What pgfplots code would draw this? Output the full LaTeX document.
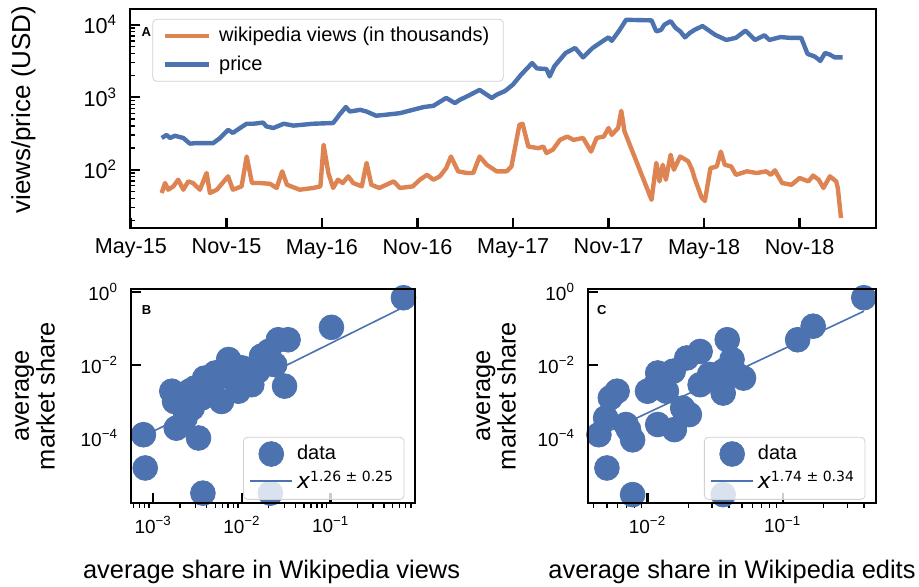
\documentclass[border=0pt]{standalone}
\usepackage{fontspec}
\setmainfont{Liberation Sans}
\newfontfamily\mtfont{DejaVu Sans}
\usepackage{pgfplots}
\pgfplotsset{compat=1.18}
\definecolor{sbblue}{HTML}{4C72B0}
\definecolor{sborange}{HTML}{DD8452}

\pgfplotsset{
  mypanel/.style={
    scale only axis, anchor=south west,
    axis line style={draw=black, line width=1.4pt},
    tick align=inside, xtick pos=left, ytick pos=left,
    major tick length=5pt, minor tick length=2.5pt,
    every major tick/.append style={line width=1.2pt, black},
    every minor tick/.append style={line width=0.7pt, black},
    yticklabel style={xshift=-3pt},
  },
  myscatter/.style={
    mypanel,
    ymin=1.66e-6, ymax=1.2,
    ytick={1e-4,1e-2,1},
    yticklabels={10\textsuperscript{−4},10\textsuperscript{−2},10\textsuperscript{0}},
    minor ytick={},
    minor x tick style={yshift=-2.5pt},
    tick label style={font=\fontsize{9.5}{10}\selectfont},
    xticklabel style={yshift=-3pt},
    label style={font=\fontsize{12.7}{11}\selectfont},
    ylabel={average\\market share},
    ylabel style={align=center},
    legend cell align=left,
    legend style={at={(0.963,0.015)}, anchor=south east,
      draw=black!18, rounded corners=2pt, fill=white, fill opacity=0.8,
      draw opacity=1, text opacity=1,
      font=\fontsize{10}{11}\selectfont, row sep=0pt,
      inner xsep=3pt, inner ysep=2pt},
    legend image code/.code={\draw[mark repeat=2,mark phase=2,##1,fill opacity=1]
      plot coordinates {(0pt,0pt) (10.5pt,0pt) (21pt,0pt)};},
  },
  dots/.style={only marks, mark=*, mark size=6.2pt,
    mark options={fill=sbblue, draw=sbblue}},
}
% frame of a panel as four open strokes: left, bottom, right, top (in pt)
\newcommand{\frameaxis}[4]{%
  \draw[black, line width=1.4pt, line cap=rect] (#1pt,#2pt) -- (#3pt,#2pt);
  \draw[black, line width=1.4pt, line cap=rect] (#3pt,#2pt) -- (#3pt,#4pt);
  \draw[black, line width=1.4pt, line cap=rect] (#3pt,#4pt) -- (#1pt,#4pt);
  \draw[black, line width=1.4pt, line cap=rect] (#1pt,#4pt) -- (#1pt,#2pt);}

\begin{document}
\begin{tikzpicture}
\useasboundingbox (0pt,0pt) rectangle (459.5pt,-293.5pt);

% A: time series
\begin{axis}[mypanel,
  at={(65pt,-114pt)}, width=373pt, height=109.5pt,
  ymode=log, xmin=-0.06, xmax=46.8, ymin=15.7, ymax=16500,
  tick label style={font=\fontsize{10.8}{11}\selectfont},
  xtick={0,6,12,18,24,30,36,42},
  xticklabels={May-15,Nov-15,May-16,Nov-16,May-17,Nov-17,May-18,Nov-18},
  xticklabel style={yshift=-2pt},
  ytick={100,1000,10000},
  yticklabels={10\textsuperscript{2},10\textsuperscript{3},10\textsuperscript{4}},
  minor ytick={20,30,40,50,60,70,80,90,200,300,400,500,600,700,800,900,
    2000,3000,4000,5000,6000,7000,8000,9000},
  ylabel={views/price (USD)},
  ylabel style={at={(axis description cs:-0.143,0.54)}, anchor=center,
    font=\fontsize{13}{13}\selectfont},
  legend cell align=left,
  legend style={at={(0.03,0.955)}, anchor=north west,
    draw=black!18, rounded corners=2pt, fill=white,
    font=\fontsize{10}{11}\selectfont, row sep=1.5pt,
    inner xsep=5pt, inner ysep=2pt,
    /tikz/every odd column/.append style={column sep=2pt}},
  legend image code/.code={\draw[#1] (0pt,0pt) -- (22pt,0pt);},
]
\addplot[sborange, line width=2.2pt, line join=round] coordinates {
(1.93,47.7)(2.14,65.5)(2.34,53)(2.66,58.9)(2.97,72.8)(3.29,53)(3.6,69)
(3.9,65.5)(4.33,53)(4.75,90)(4.96,47.7)(5.4,53)(6.1,81)(6.4,53)(6.95,58.9)
(7.27,152)(7.6,65.5)(8.1,65.5)(8.73,64)(9.15,56)(9.5,95)(9.8,62)(10.6,53)
(11.45,56)(11.9,58.9)(12.1,221)(12.4,90)(12.7,56)(13.0,72.8)(13.3,65.5)
(13.65,81)(13.96,65.5)(14.5,58.9)(14.8,124)(15.1,62)(15.6,56)(16.5,69)
(16.9,56)(17.7,58.9)(18.15,72.8)(18.6,85)(19.0,72.8)(19.4,81)(19.8,105)
(20.1,152)(20.55,95)(21.1,90)(21.5,90)(21.9,152)(22.35,117)(22.97,95)
(23.6,95)(23.9,111)(24.4,417)(24.6,430)(24.96,209)(25.6,198)(25.9,209)
(26.1,170)(26.5,189)(26.95,258)(27.4,287)(27.8,258)(28.4,274)(28.9,178)
(29.25,274)(29.7,287)(30.0,376)(30.2,303)(30.6,376)(30.8,650)(31.0,339)
(32.7,38.5)(33.0,124)(33.2,69)(33.4,117)(33.6,72.8)(33.9,161)(34.1,100)
(34.5,152)(35.0,131)(35.25,100)(35.4,77)(35.85,41)(36.05,37)(36.4,105)
(36.8,111)(37.05,178)(37.3,117)(37.7,111)(38.0,85)(38.7,95)(39.3,90)
(39.9,95)(40.2,85)(40.45,98)(40.9,65.5)(41.5,62)(42.0,77)(42.55,69)
(42.85,83)(43.2,72.8)(43.5,56)(43.9,81)(44.3,69)(44.4,56)(44.6,21.6)
};
\addlegendentry{wikipedia views (in thousands)}
\addplot[sbblue, line width=2.2pt, line join=round] coordinates {
(1.93,274)(2.24,302)(2.45,274)(2.76,294)(3.29,274)(3.7,229)(4.1,233)
(5.17,233)(5.6,274)(6.1,355)(6.4,322)(6.85,376)(7.27,431)(7.7,431)
(8.3,447)(8.5,397)(8.94,376)(9.6,431)(10.2,406)(11.45,431)(12.7,441)
(13.1,575)(13.5,733)(13.75,635)(14.4,670)(14.8,635)(15.4,556)(16.06,575)
(16.9,603)(17.7,670)(18.4,733)(19.0,762)(19.8,977)(20.35,831)(20.66,922)
(21.1,1025)(21.9,1263)(22.66,977)(22.97,1083)(23.5,1220)(24.0,1500)
(24.5,2040)(25.2,2960)(25.5,2500)(26.1,2450)(26.3,1940)(26.6,2680)
(27.3,4080)(27.9,4780)(28.4,3550)(29.0,4780)(29.6,5880)(30.0,6710)
(30.2,6000)(30.7,8500)(31.1,11700)(32.7,11500)(33.0,8100)(33.3,8500)
(33.5,10000)(33.9,11200)(34.2,9100)(34.5,8100)(34.8,6700)(35.1,7700)
(35.4,8500)(35.9,9600)(36.7,7250)(37.4,6170)(38.0,6600)(38.6,8300)
(39.2,6170)(39.8,7160)(40.1,6170)(40.8,6760)(41.4,6600)(42.1,6600)
(42.5,3960)(42.96,3640)(43.3,3170)(43.6,4080)(43.9,3880)(44.2,3550)
(44.7,3550)
};
\addlegendentry{price}
\node[font=\bfseries\fontsize{6.5}{7}\selectfont] at (rel axis cs:0.022,0.896) {A};
\end{axis}
\frameaxis{65}{-114}{438}{-4.5}

% B: views share
\begin{axis}[myscatter, xmode=log, ymode=log,
  at={(65.5pt,-251.5pt)}, width=142pt, height=107pt,
  xmin=5.62e-4, xmax=0.891,
  xtick={1e-3,1e-2,1e-1},
  xticklabels={10\textsuperscript{−3},10\textsuperscript{−2},10\textsuperscript{−1}},
  minor xtick={6e-4,7e-4,8e-4,9e-4,2e-3,3e-3,4e-3,5e-3,6e-3,7e-3,8e-3,9e-3,
    2e-2,3e-2,4e-2,5e-2,6e-2,7e-2,8e-2,9e-2,2e-1,3e-1,4e-1,5e-1,6e-1,7e-1,8e-1},
  xlabel={average share in Wikipedia views},
  xlabel style={at={(axis description cs:0.495,-0.322)}, anchor=center},
  ylabel style={at={(axis description cs:-0.338,0.5)}, anchor=center},
]
\addplot[sbblue, line width=0.8pt, forget plot] coordinates {(7.76e-4,1.12e-4)(0.661,0.380)};
\addplot[dots] coordinates {
(0.661,0.692)(0.102,0.107)(0.0257,0.0490)(0.0331,0.0490)(0.0166,0.0174)
(0.0302,0.00263)(0.0234,0.0102)(0.00708,0.0141)(0.00501,0.00603)
(0.00380,0.00437)(0.00295,0.00234)(0.00162,0.00191)(0.00174,0.001)
(0.00182,0.000186)(0.00324,0.0001)(0.000776,0.000123)(0.000813,1.51e-5)
(0.00363,3.09e-6)(0.0209,3.09e-6)(0.0129,0.00288)(0.00912,0.00191)
(0.00589,0.001)(0.00417,0.00155)(0.00275,0.000661)(0.00229,0.000355)
(0.01,0.00832)(0.0151,0.00676)(0.00457,0.00288)(0.00355,0.00126)
(0.00759,0.00437)(0.0200,0.0234)(0.00257,0.00191)(0.00537,0.00537)
(0.0107,0.00355)
};
\addlegendentry{data}
\addlegendimage{sbblue, line width=0.8pt}
\addlegendentry{{\mtfont\itshape\fontsize{11}{11}\selectfont x}\textsuperscript{\mtfont 1.26 ± 0.25}}
\node[font=\bfseries\fontsize{6.5}{7}\selectfont] at (rel axis cs:0.055,0.90) {B};
\end{axis}
\frameaxis{65.5}{-251.5}{207.5}{-144.5}

% C: edits share
\begin{axis}[myscatter, xmode=log, ymode=log,
  at={(294pt,-251.5pt)}, width=144pt, height=107pt,
  xmin=0.00363, xmax=0.490,
  xtick={1e-2,1e-1},
  xticklabels={10\textsuperscript{−2},10\textsuperscript{−1}},
  minor xtick={4e-3,5e-3,6e-3,7e-3,8e-3,9e-3,
    2e-2,3e-2,4e-2,5e-2,6e-2,7e-2,8e-2,9e-2,2e-1,3e-1,4e-1},
  xlabel={average share in Wikipedia edits},
  xlabel style={at={(axis description cs:0.5,-0.322)}, anchor=center},
  ylabel style={at={(axis description cs:-0.319,0.5)}, anchor=center},
]
\addplot[sbblue, line width=0.8pt, forget plot] coordinates {(0.00437,1.148e-4)(0.398,0.295)};
\addplot[dots] coordinates {
(0.398,0.692)(0.168,0.115)(0.129,0.049)(0.0389,0.049)(0.0422,0.0141)
(0.0363,0.00676)(0.0457,0.0055)(0.0347,0.00288)(0.0363,0.0017)
(0.0245,0.0234)(0.0195,0.0155)(0.0155,0.00676)(0.0119,0.00603)
(0.0115,0.00288)(0.01,0.00191)(0.0138,0.00191)(0.0182,0.000661)
(0.0204,0.000437)(0.0158,0.00017)(0.0119,0.000234)(0.00724,0.00017)
(0.00776,8.91e-5)(0.00596,0.00191)(0.00531,0.00126)(0.0049,0.000355)
(0.00437,0.000123)(0.00501,1.51e-5)(0.00776,2.82e-6)(0.0363,2.82e-6)
(0.0288,0.0055)(0.0513,0.00437)(0.0245,0.00288)(0.0126,0.00355)
(0.00692,0.000234)
};
\addlegendentry{data}
\addlegendimage{sbblue, line width=0.8pt}
\addlegendentry{{\mtfont\itshape\fontsize{11}{11}\selectfont x}\textsuperscript{\mtfont 1.74 ± 0.34}}
\node[font=\bfseries\fontsize{6.5}{7}\selectfont] at (rel axis cs:0.048,0.90) {C};
\end{axis}
\frameaxis{294}{-251.5}{438}{-144.5}
\end{tikzpicture}
\end{document}
